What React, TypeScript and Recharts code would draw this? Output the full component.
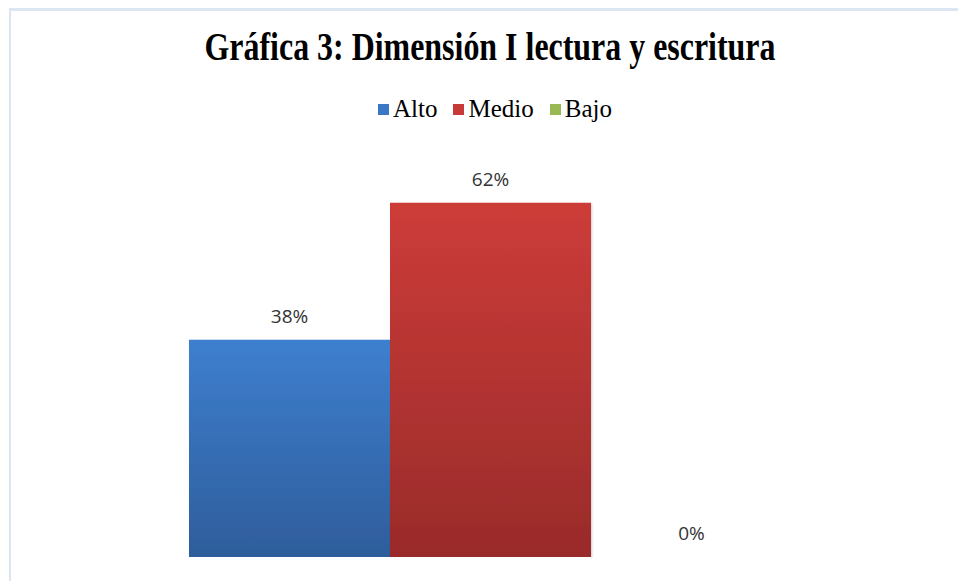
import React from "react";
import { BarChart, Bar, XAxis, YAxis, Legend, LabelList } from "recharts";

// datos de la gráfica 3
const categories = ["Dimensión I"];
const seriesNames = ["Alto", "Medio", "Bajo"];
const altoValues = [38];
const medioValues = [62];
const bajoValues = [0];

const COLORS = ["#3a78c6", "#c63a37", "#98b954"];
const GRADIENTS = [
  ["#3e7fcf", "#2e5d9b"],
  ["#cd3c39", "#992b2a"],
  ["#9fc35d", "#7a9a42"],
];

const data = categories.map((name, i) => ({
  name,
  Alto: altoValues[i],
  Medio: medioValues[i],
  Bajo: bajoValues[i],
}));

const renderLegend = () => (
  <div
    style={{
      display: "flex",
      justifyContent: "center",
      fontFamily: "'Liberation Serif', 'Times New Roman', serif",
      fontSize: 25,
      lineHeight: "28px",
      color: "#000",
      paddingLeft: 32,
    }}
  >
    {seriesNames.map((name, index) => (
      <div
        key={name}
        style={{ display: "flex", alignItems: "center", marginRight: index < seriesNames.length - 1 ? 16 : 0 }}
      >
        <span style={{ display: "inline-block", width: 11, height: 11, background: COLORS[index], marginRight: 4 }} />
        <span>{name}</span>
      </div>
    ))}
  </div>
);

export default function App() {
  return (
    <div style={{ position: "absolute", left: 0, top: 0, width: 958, height: 581, background: "#fff" }}>
      <div
        style={{
          position: "absolute",
          left: 9,
          top: 8,
          width: 949,
          height: 573,
          borderTop: "3px solid #dce6f3",
          borderLeft: "2px solid #dce6f3",
          boxSizing: "border-box",
        }}
      />
      <BarChart
        width={958}
        height={581}
        data={data}
        margin={{ top: 129, right: 68, bottom: 24, left: 90 }}
        barGap={0}
        barSize={201}
        style={{ position: "absolute", left: 0, top: 0 }}
      >
        <defs>
          {GRADIENTS.map((g, i) => (
            <linearGradient key={i} id={`grad${i}`} x1="0" y1="0" x2="0" y2="1">
              <stop offset="0%" stopColor={g[0]} />
              <stop offset="100%" stopColor={g[1]} />
            </linearGradient>
          ))}
          <filter id="shadow" x="-5%" y="-5%" width="110%" height="110%">
            <feDropShadow dx="1" dy="1" stdDeviation="1" floodColor="#000" floodOpacity="0.2" />
          </filter>
        </defs>
        <text
          x={490}
          y={60}
          textAnchor="middle"
          fontFamily="'Liberation Serif', 'Times New Roman', serif"
          fontWeight="bold"
          fontSize={40}
          textLength={571}
          lengthAdjust="spacingAndGlyphs"
          fill="#000"
        >
          Gráfica 3: Dimensión I lectura y escritura
        </text>
        <XAxis dataKey="name" hide />
        <YAxis hide domain={[0, 70]} allowDataOverflow />
        <Legend verticalAlign="top" content={renderLegend} wrapperStyle={{ top: 95, left: 0, width: 958 }} />
        {seriesNames.map((s, i) => (
          <Bar
            key={s}
            dataKey={s}
            fill={`url(#grad${i})`}
            isAnimationActive={false}
            filter="url(#shadow)"
            minPointSize={0.01}
          >
            <LabelList
              dataKey={s}
              position="top"
              offset={17}
              formatter={(v: any) => `${v}%`}
              fill="#333"
              fontFamily="'Open Sans', sans-serif"
              fontSize={19}
            />
          </Bar>
        ))}
      </BarChart>
    </div>
  );
}
